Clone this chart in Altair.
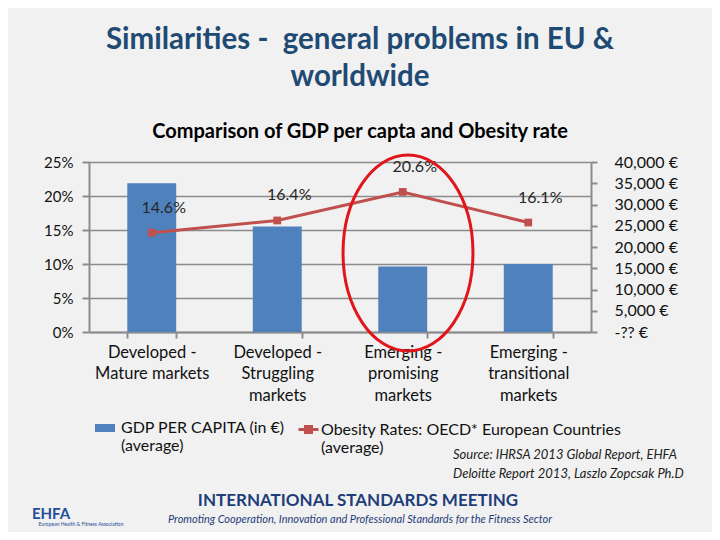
import altair as alt
import pandas as pd

# ---- data ----
categories = [
    "Developed -\nMature markets",
    "Developed -\nStruggling\nmarkets",
    "Emerging -\npromising\nmarkets",
    "Emerging -\ntransitional\nmarkets",
]
gdp_per_capita = [35000, 24800, 15400, 16000]
obesity_rate = [0.146, 0.164, 0.206, 0.161]
gdp_ticks = [0, 5000, 10000, 15000, 20000, 25000, 30000, 35000, 40000]
obesity_ticks = [0, 0.05, 0.10, 0.15, 0.20, 0.25]
gdp_series = "GDP PER CAPITA (in €)\n(average)"
obesity_series = "Obesity Rates: OECD* European Countries\n(average)"

title_lines = ["Similarities -\u00a0 general problems in EU &", "worldwide"]
subtitle = "Comparison of GDP per capta and Obesity rate"
source_lines = ["Source: IHRSA 2013 Global Report, EHFA",
                "Deloitte Report 2013, Laszlo Zopcsak Ph.D"]
footer_title = "INTERNATIONAL STANDARDS MEETING"
footer_sub = "Promoting Cooperation, Innovation and Professional Standards for the Fitness Sector"
logo_text = "EHFA"
logo_sub = "European Health & Fitness Association"

df = pd.DataFrame({
    "category": categories,
    "gdp": gdp_per_capita,
    "obesity": obesity_rate,
    "gdp_series": [gdp_series] * len(categories),
    "obesity_series": [obesity_series] * len(categories),
})

FONT = "Lato"
BLUE = "#4F81BD"
RED = "#C0504D"
GRID = "#8C8C8C"
NAVY = "#1F4A73"

x_enc = alt.X(
    "category:N", sort=categories, title=None,
    scale=alt.Scale(paddingInner=0.61, paddingOuter=0.305),
    axis=alt.Axis(labelExpr="split(datum.label, '\\n')", labelAngle=0,
                  labelFontSize=16.5, labelLineHeight=21.5, labelPadding=6,
                  tickBand="extent", tickSize=6, tickWidth=2, domainWidth=2,
                  domainColor=GRID, tickColor=GRID, labelColor="#111111",
                  labelFont=FONT, labelLimit=0, labelBaseline="top"),
)

y_gdp = alt.Y(
    "gdp:Q", title=None, scale=alt.Scale(domain=[0, 40000], nice=False),
    axis=alt.Axis(orient="right", values=gdp_ticks, grid=False,
                  labelExpr="datum.value == 0 ? '-?? €' : format(datum.value, ',') + ' €'",
                  tickSize=6, tickWidth=2, domainWidth=2, domainColor=GRID,
                  tickColor=GRID, labelPadding=17, labelFontSize=16,
                  labelFont=FONT, labelColor="#111111"),
)

y_ob = alt.Y(
    "obesity:Q", title=None, scale=alt.Scale(domain=[0, 0.25], nice=False),
    axis=alt.Axis(orient="left", values=obesity_ticks, format=".0%", grid=True,
                  gridColor=GRID, gridWidth=1.5, tickSize=7, tickWidth=2,
                  domainWidth=2, domainColor=GRID, tickColor=GRID,
                  labelPadding=9, labelFontSize=15, labelFont=FONT,
                  labelColor="#111111"),
)

bars = alt.Chart(df).mark_bar().encode(
    x=x_enc,
    y=y_gdp,
    fill=alt.Fill("gdp_series:N", scale=alt.Scale(range=[BLUE]),
                  legend=alt.Legend(title=None, orient="none", legendX=6, legendY=248,
                                    symbolType="M-1,0.4H1V1.2H-1Z", symbolSize=400,
                                    symbolStrokeWidth=0,
                                    labelExpr="split(datum.label, '\\n')",
                                    labelFontSize=16, labelFont=FONT, labelLimit=0,
                                    labelBaseline="top", labelOffset=6, padding=0,
                                    labelColor="#111111")),
)

line = alt.Chart(df).mark_line(strokeWidth=3).encode(
    x=x_enc,
    y=y_ob,
    stroke=alt.Stroke("obesity_series:N", scale=alt.Scale(range=[RED]),
                      legend=alt.Legend(title=None, orient="none", legendX=208, legendY=248,
                                        symbolType="M-1,0.8H1M-0.3,0.5H0.3V1.1H-0.3Z",
                                        symbolSize=400, symbolStrokeWidth=3,
                                        symbolFillColor=RED,
                                        labelExpr="split(datum.label, '\\n')",
                                        labelFontSize=16, labelFont=FONT, labelLimit=0,
                                        labelBaseline="top", labelOffset=1, padding=0,
                                        labelColor="#111111")),
)

points = alt.Chart(df).mark_point(shape="square", filled=True, size=60,
                                  color=RED, opacity=1).encode(x=x_enc, y=y_ob)

labels = alt.Chart(df).mark_text(dx=12, dy=-25, fontSize=16, font=FONT,
                                 color="#262626").encode(
    x=x_enc, y=y_ob, text=alt.Text("obesity:Q", format=".1%"))

left = alt.layer(line, points, labels)

one = pd.DataFrame({"k": [0]})

ellipse = alt.Chart(one).mark_point(
    shape=("M0,-1C0.366,-1 0.663,-0.5523 0.663,0C0.663,0.5523 0.366,1 0,1"
           "C-0.366,1 -0.663,0.5523 -0.663,0C-0.663,-0.5523 -0.366,-1 0,-1Z"),
    size=38416, filled=False, stroke="#E0161B", strokeWidth=3, opacity=1,
).encode(x=alt.value(319), y=alt.value(91))


def note(text, x, y, size, color="#111111", weight="normal", style="normal", align="center"):
    return alt.Chart(one).mark_text(
        text=text, fontSize=size, font=FONT, fontWeight=weight, fontStyle=style,
        color=color, align=align, baseline="middle",
    ).encode(x=alt.value(x), y=alt.value(y))


notes = [
    note(title_lines[0], 271, -122, 29.5, NAVY, "bold"),
    note(title_lines[1], 271, -85, 29.5, NAVY, "bold"),
    note(subtitle, 271, -30, 20, "#000000", "bold"),
    note(source_lines[0], 364, 293, 13, "#222222", style="italic", align="left"),
    note(source_lines[1], 364, 312, 13, "#222222", style="italic", align="left"),
    note(footer_title, 269, 339, 17, "#1F3D7A", "bold"),
    note(footer_sub, 271, 358, 11, "#1F3D7A", style="italic"),
    note(logo_text, -38, 352, 15, "#1F4E9A", "bold"),
    note(logo_sub, -8, 362, 5, "#1F4E9A"),
]

chart = alt.layer(bars, left, ellipse, *notes).resolve_scale(
    y="independent"
).properties(
    width=502, height=170,
    autosize=alt.AutoSizeParams(type="none"),
    padding={"left": 81, "top": 154, "right": 121, "bottom": 200},
    background="#F1F1F1",
).configure_view(stroke=None)

chart.save("out.html", embed_options={"renderer": "svg", "actions": False})
